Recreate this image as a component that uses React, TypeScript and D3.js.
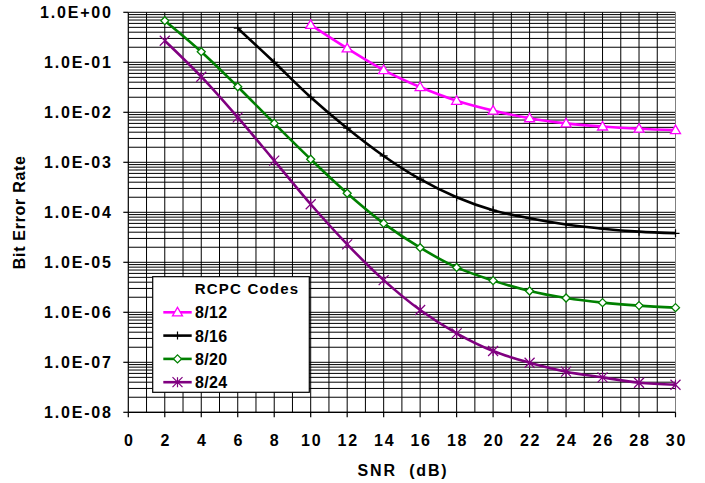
import React from 'react';
import * as d3 from 'd3';

// SNR (dB) points and bit error rates for each RCPC code rate
const snr812 = [10, 12, 14, 16, 18, 20, 22, 24, 26, 28, 30];
const ber812 = [0.56, 0.19, 0.07, 0.032, 0.017, 0.0108, 0.0076, 0.006, 0.0052, 0.0047, 0.0044];

const snr816 = [6, 8, 10, 12, 14, 16, 18, 20, 22, 24, 26, 28, 30];
const ber816 = [0.48, 0.1, 0.02, 0.0048, 0.00134, 4.6e-4, 2.0e-4, 1.1e-4, 7.6e-5, 5.7e-5, 4.7e-5, 4.1e-5, 3.8e-5];

const snr820 = [2, 4, 6, 8, 10, 12, 14, 16, 18, 20, 22, 24, 26, 28, 30];
const ber820 = [0.68, 0.163, 0.0325, 0.006, 0.00115, 2.4e-4, 6.0e-5, 1.96e-5, 7.9e-6, 4.3e-6, 2.67e-6, 1.93e-6, 1.56e-6, 1.36e-6, 1.24e-6];

const snr824 = [2, 4, 6, 8, 10, 12, 14, 16, 18, 20, 22, 24, 26, 28, 30];
const ber824 = [0.27, 0.0515, 0.0079, 1.08e-3, 1.45e-4, 2.29e-5, 4.4e-6, 1.11e-6, 3.8e-7, 1.68e-7, 9.8e-8, 6.5e-8, 5.0e-8, 3.9e-8, 3.56e-8];

const seriesNames = ['8/12', '8/16', '8/20', '8/24'];
const seriesColors = ['#ff00ff', '#000000', '#008000', '#800080'];
const seriesMarkers = ['triangle', 'plus', 'diamond', 'star'];

const xTicks = d3.range(0, 31, 2);
const yDecades = [1, 1e-1, 1e-2, 1e-3, 1e-4, 1e-5, 1e-6, 1e-7, 1e-8];

const W = 705;
const H = 483;
const FONT = '"Liberation Sans", Arial, sans-serif';

function fmtSci(v: number) {
  const e = Math.round(Math.log10(v));
  const s = String(Math.abs(e)).padStart(2, '0');
  return `1.0E${e >= 0 ? '+' : '-'}${s}`;
}

function Marker({ type, x, y, color }: { type: string; x: number; y: number; color: string }) {
  const r = 5;
  if (type === 'triangle') {
    return <path d={`M${x},${y - r}L${x + r},${y + r * 0.7}L${x - r},${y + r * 0.7}Z`} fill="white" stroke={color} strokeWidth={1.3} />;
  }
  if (type === 'diamond') {
    return <path d={`M${x},${y - 4}L${x + 4},${y}L${x},${y + 4}L${x - 4},${y}Z`} fill="white" stroke={color} strokeWidth={1.3} />;
  }
  if (type === 'plus') {
    return <path d={`M${x - 4},${y}H${x + 4}M${x},${y - 4}V${y + 4}`} stroke={color} strokeWidth={1.2} />;
  }
  // asterisk
  return (
    <path
      d={`M${x - r},${y - r}L${x + r},${y + r}M${x - r},${y + r}L${x + r},${y - r}M${x},${y - r}V${y + r}`}
      stroke={color}
      strokeWidth={1.2}
    />
  );
}

export default function App() {
  const x = d3.scaleLinear().domain([0, 30]).range([128.3, 675.5]);
  const y = d3.scaleLog().domain([1, 1e-8]).range([12.3, 412.3]);

  const series = [
    { xs: snr812, ys: ber812 },
    { xs: snr816, ys: ber816 },
    { xs: snr820, ys: ber820 },
    { xs: snr824, ys: ber824 },
  ];

  const line = d3
    .line<[number, number]>()
    .x((d) => x(d[0]))
    .y((d) => y(d[1]))
    .curve(d3.curveCatmullRom.alpha(0.5));

  // minor log grid values
  const minor: number[] = [];
  for (let e = -8; e < 0; e++) {
    for (let m = 2; m <= 9; m++) minor.push(m * Math.pow(10, e));
  }
  const vGrid = d3.range(1, 31, 1);

  const [x0, x1] = x.range();
  const [yTop, yBot] = [y(1), y(1e-8)];

  const legendX = 152.7;
  const legendY = 276.7;
  const legendW = 156.6;
  const legendH = 115.6;
  const rowY = [312.3, 335.6, 358.9, 382.2];

  const txt = { fontFamily: FONT, fontWeight: 700, fill: '#000' } as const;

  return (
    <svg width={W} height={H} style={{ position: 'absolute', left: 0, top: 0, background: '#fff' }}>
      <rect x={0} y={0} width={W} height={H} fill="#fff" />
      {/* grid */}
      <g stroke="#000" strokeWidth={1}>
        {minor.map((v, i) => (
          <line key={'m' + i} x1={x0} x2={x1} y1={y(v)} y2={y(v)} />
        ))}
        {yDecades.map((v, i) => (
          <line key={'d' + i} x1={x0} x2={x1} y1={y(v)} y2={y(v)} />
        ))}
        {vGrid.map((v) => (
          <line key={'v' + v} x1={x(v)} x2={x(v)} y1={yTop} y2={yBot} stroke={v === 30 ? '#808080' : '#000'} />
        ))}
      </g>
      {/* axes */}
      <g stroke="#000" strokeWidth={1.2}>
        <line x1={x0} x2={x0} y1={yTop} y2={yBot} />
        <line x1={x0} x2={x1} y1={yBot} y2={yBot} />
        {yDecades.map((v, i) => (
          <line key={'yt' + i} x1={x0 - 5} x2={x0} y1={y(v)} y2={y(v)} />
        ))}
        {xTicks.map((v) => (
          <line key={'xt' + v} x1={x(v)} x2={x(v)} y1={yBot} y2={yBot + 5} />
        ))}
      </g>
      {/* tick labels */}
      {yDecades.map((v, i) => (
        <text key={'yl' + i} x={112.7} y={y(v) + 6} textAnchor="end" fontSize={16} letterSpacing={1.8} style={txt}>
          {fmtSci(v)}
        </text>
      ))}
      {xTicks.map((v) => (
        <text key={'xl' + v} x={x(v) + 1} y={445.5} textAnchor="middle" fontSize={16} letterSpacing={1.8} style={txt}>
          {v}
        </text>
      ))}
      <text x={403} y={476} textAnchor="middle" fontSize={16} letterSpacing={1.8} style={{ ...txt, whiteSpace: 'pre' }}>
        {'SNR  (dB)'}
      </text>
      <text
        transform={`translate(25,${(yTop + yBot) / 2}) rotate(-90)`}
        textAnchor="middle"
        fontSize={16}
        letterSpacing={0.7}
        style={txt}
      >
        Bit Error Rate
      </text>
      {/* series */}
      {series.map((s, i) => {
        const pts = s.xs.map((v, j) => [v, s.ys[j]] as [number, number]);
        return (
          <g key={'s' + i}>
            <path d={line(pts) || ''} fill="none" stroke={seriesColors[i]} strokeWidth={2.6} />
            {pts.map((p, j) => (
              <Marker key={j} type={seriesMarkers[i]} x={x(p[0])} y={y(p[1])} color={seriesColors[i]} />
            ))}
          </g>
        );
      })}
      {/* legend */}
      <rect x={legendX} y={legendY} width={legendW} height={legendH} fill="#fff" stroke="#000" strokeWidth={1.2} />
      <text x={247} y={293.5} textAnchor="middle" fontSize={15} letterSpacing={1.2} style={txt}>
        RCPC Codes
      </text>
      {seriesNames.map((n, i) => (
        <g key={'lg' + i}>
          <line x1={163.3} x2={191.7} y1={rowY[i]} y2={rowY[i]} stroke={seriesColors[i]} strokeWidth={2.6} />
          <Marker type={seriesMarkers[i]} x={177.5} y={rowY[i]} color={seriesColors[i]} />
          <text x={195} y={rowY[i] + 6} fontSize={16} letterSpacing={0.3} style={txt}>
            {n}
          </text>
        </g>
      ))}
    </svg>
  );
}
